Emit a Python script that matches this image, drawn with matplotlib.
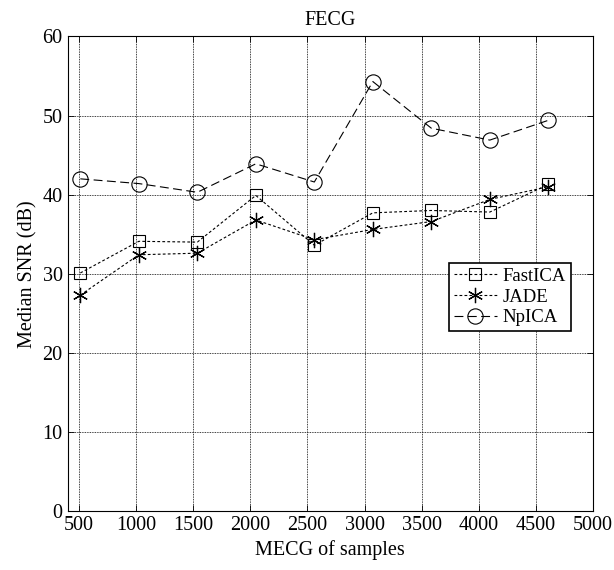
import matplotlib
matplotlib.use("Agg")
import matplotlib.pyplot as plt

# data
samples = [512, 1024, 1536, 2048, 2560, 3072, 3584, 4096, 4608]
fastica = [30.1, 34.1, 34.0, 39.9, 33.6, 37.7, 38.0, 37.8, 41.3]
jade = [27.3, 32.4, 32.6, 36.8, 34.3, 35.6, 36.6, 39.4, 41.0]
npica = [42.0, 41.4, 40.3, 43.9, 41.6, 54.3, 48.4, 46.9, 49.4]
xticks = [500, 1000, 1500, 2000, 2500, 3000, 3500, 4000, 4500, 5000]
yticks = [0, 10, 20, 30, 40, 50, 60]

plt.rcParams["font.family"] = ["Liberation Serif", "DejaVu Serif"]
plt.rcParams["font.size"] = 14.5

fig = plt.figure(figsize=(6.14, 5.70), dpi=100)
ax = fig.add_axes([0.110, 0.1035, 0.856, 0.8325])

ax.plot(samples, fastica, color="black", linewidth=0.8, linestyle=(0, (2.5, 2)),
        marker="s", markersize=9, markerfacecolor="none", markeredgewidth=0.8,
        label="FastICA")
ax.plot(samples, jade, color="black", linewidth=0.8, linestyle=(0, (2.5, 2)),
        marker=(6, 2, 0), markersize=11, markeredgewidth=0.9,
        label="JADE")
ax.plot(samples, npica, color="black", linewidth=0.8, linestyle=(0, (8, 4)),
        marker="o", markersize=11, markerfacecolor="none", markeredgewidth=0.8,
        label="NpICA")

ax.set_xlim(400, 5000)
ax.set_ylim(0, 60)
ax.set_xticks(xticks)
ax.set_yticks(yticks)
ax.grid(True, color="black", linestyle=(0, (1, 1)), linewidth=0.6)
ax.tick_params(direction="in", top=True, right=True, length=4, width=0.6)
for s in ax.spines.values():
    s.set_linewidth(0.8)

ax.set_title("FECG", fontsize=14.5, pad=8)
ax.set_xlabel("MECG of samples", labelpad=4)
ax.set_ylabel("Median SNR (dB)", labelpad=4)

leg = ax.legend(loc="upper left", bbox_to_anchor=(0.726, 0.523), fancybox=False,
                framealpha=1, edgecolor="black", handlelength=2.3,
                handletextpad=0.3, borderpad=0.25, labelspacing=0.2,
                fontsize=13.5, borderaxespad=0)
leg.get_frame().set_linewidth(1.2)

fig.savefig("out.png", dpi=100)
